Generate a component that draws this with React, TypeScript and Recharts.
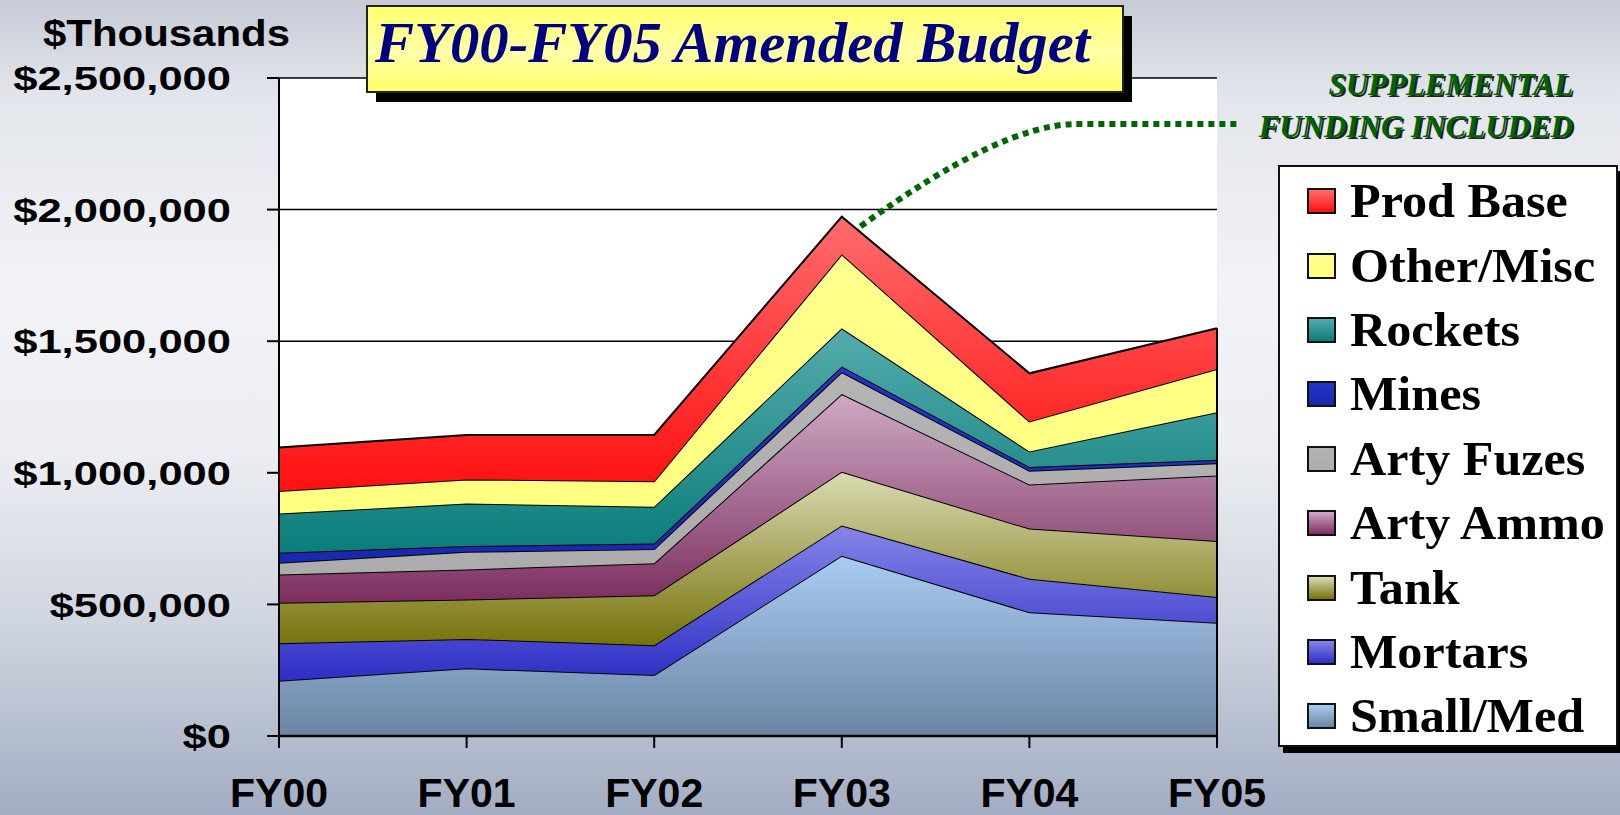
import React from 'react';
import { AreaChart, Area, XAxis, YAxis, CartesianGrid, Legend, ReferenceLine } from 'recharts';

// $Thousands, stacked from the bottom (Small/Med) to the top (Prod Base)
const years = ['FY00', 'FY01', 'FY02', 'FY03', 'FY04', 'FY05'];
const seriesNames = ['Small/Med', 'Mortars', 'Tank', 'Arty Ammo', 'Arty Fuzes', 'Mines', 'Rockets', 'Other/Misc', 'Prod Base'];
const smallMed = [210000, 257000, 232000, 685000, 470000, 430000];
const mortars = [142000, 112000, 113000, 115000, 127000, 98000];
const tank = [154000, 150000, 190000, 204000, 191000, 213000];
const artyAmmo = [108000, 114000, 121000, 295000, 168000, 249000];
const artyFuzes = [44000, 67000, 54000, 84000, 52000, 46000];
const mines = [38000, 22000, 21000, 21000, 14000, 14000];
const rockets = [149000, 161000, 140000, 145000, 59000, 180000];
const otherMisc = [86000, 92000, 97000, 281000, 114000, 164000];
const prodBase = [165000, 169000, 176000, 143000, 183000, 155000];
const seriesValues = [smallMed, mortars, tank, artyAmmo, artyFuzes, mines, rockets, otherMisc, prodBase];
const yTicks = [0, 500000, 1000000, 1500000, 2000000, 2500000];

// gradient colours per series: [top, bottom]
const colours: Record<string, [string, string]> = {
  'Small/Med': ['#a9ccf2', '#6c85a3'],
  'Mortars': ['#8585e8', '#2e2ec6'],
  'Tank': ['#dadcb4', '#76720a'],
  'Arty Ammo': ['#cfaac6', '#7c2e5e'],
  'Arty Fuzes': ['#b4b4b4', '#acacac'],
  'Mines': ['#2434c6', '#1a28b0'],
  'Rockets': ['#54acac', '#0b7d7a'],
  'Other/Misc': ['#ffff8c', '#ffff80'],
  'Prod Base': ['#ff6c6c', '#ff1010'],
};

const W = 1620;
const H = 815;
const PLOT_LEFT = 279;
const PLOT_RIGHT = 1217;
const PLOT_TOP = 78;
const PLOT_BOTTOM = 736;
const Y_MAX = 2500000;

const SANS = '"Liberation Sans", Arial, sans-serif';
const SERIF = '"Liberation Serif", "Times New Roman", serif';

const keyOf = (name: string) => name.replace(/[^A-Za-z]/g, '');
const fmt = (v: number) => '$' + v.toLocaleString('en-US');

const data = years.map((year, i) => {
  const row: any = { year };
  seriesNames.forEach((n, s) => { row[keyOf(n)] = seriesValues[s][i]; });
  return row;
});
const lastTotal = seriesValues.reduce((sum, arr) => sum + arr[arr.length - 1], 0);

// dotted "supplemental funding" call-out, in (category index, value) units
const callout = [
  { i: 3.1, v: 1936000 },
  { i: 3.85, v: 2325000 },
  { i: 4.25, v: 2325000 },
  { i: 5.11, v: 2325000 },
];
const px = (i: number) => PLOT_LEFT + (i * (PLOT_RIGHT - PLOT_LEFT)) / (years.length - 1);
const py = (v: number) => PLOT_BOTTOM - (v / Y_MAX) * (PLOT_BOTTOM - PLOT_TOP);

const YTick = (props: any) => {
  const { x, y, payload } = props;
  return (
    <text transform={`translate(${x - 34},${y}) scale(1.28,1)`} textAnchor="end" dy="0.36em"
      fontSize={34} fontWeight="bold" fontFamily={SANS} fill="#000">
      {fmt(payload.value)}
    </text>
  );
};

const XTick = (props: any) => {
  const { x, y, payload } = props;
  return (
    <text x={x} y={y} dy={57} textAnchor="middle" fontSize={41} fontWeight="bold" fontFamily={SANS} fill="#000">
      {payload.value}
    </text>
  );
};

const LegendBox = (props: any) => {
  const items = [...(props.payload || [])].sort(
    (a: any, b: any) => seriesNames.indexOf(b.value) - seriesNames.indexOf(a.value)
  );
  return (
    <div style={{
      width: '100%', height: '100%', boxSizing: 'border-box', background: '#fff',
      border: '2px solid #111', boxShadow: '5px 6px 0 #000', paddingTop: 2,
    }}>
      {items.map((it: any) => {
        const c = colours[it.value];
        return (
          <div key={it.value} style={{ height: 64.4, display: 'flex', alignItems: 'center' }}>
            <div style={{
              marginLeft: 27, width: 25, height: 22, border: '2px solid #111',
              background: `linear-gradient(${c[0]}, ${c[1]})`,
            }} />
            <span style={{
              marginLeft: 14, fontFamily: SERIF, fontWeight: 'bold', fontSize: 48, lineHeight: '48px', color: '#000',
              display: 'inline-block', transform: 'scaleX(1.045)', transformOrigin: 'left center', whiteSpace: 'nowrap',
            }}>{it.value}</span>
          </div>
        );
      })}
    </div>
  );
};

export default function App() {
  const c0 = callout[0], c1 = callout[1], c2 = callout[2], c3 = callout[3];
  const calloutPath = `M${px(c0.i)},${py(c0.v)} Q${px(c1.i)},${py(c1.v)} ${px(c2.i)},${py(c2.v)} L${px(c3.i)},${py(c3.v)}`;
  return (
    <div style={{
      position: 'absolute', left: 0, top: 0, width: W, height: H, overflow: 'hidden',
      background: 'linear-gradient(180deg, #c6cbd6 0%, #e3e6ec 12%, #f2f3f6 35%, #eceef2 55%, #cdd3de 78%, #a2adc3 100%)',
    }}>
      <AreaChart width={W} height={H} data={data}
        margin={{ top: PLOT_TOP, right: W - PLOT_RIGHT, bottom: 0, left: 0 }}>
        <defs>
          {seriesNames.map((n) => (
            <linearGradient key={n} id={'g' + keyOf(n)} x1="0" y1="0" x2="0" y2="1">
              <stop offset="0%" stopColor={colours[n][0]} />
              <stop offset="100%" stopColor={colours[n][1]} />
            </linearGradient>
          ))}
        </defs>
        <CartesianGrid vertical={false} fill="#ffffff" fillOpacity={1} stroke="#000" strokeWidth={1.5} />
        <XAxis dataKey="year" height={H - PLOT_BOTTOM} tick={<XTick />} tickSize={12}
          axisLine={{ stroke: '#000', strokeWidth: 2.5 }} tickLine={{ stroke: '#000', strokeWidth: 2 }} />
        <YAxis width={PLOT_LEFT} domain={[0, Y_MAX]} ticks={yTicks} tick={<YTick />} tickSize={12}
          interval={0} axisLine={{ stroke: '#000', strokeWidth: 2 }} tickLine={{ stroke: '#000', strokeWidth: 2 }} />
        {seriesNames.map((n) => (
          <Area key={n} type="linear" dataKey={keyOf(n)} name={n} stackId="budget"
            stroke="#000" strokeWidth={2} fill={`url(#g${keyOf(n)})`} fillOpacity={1}
            dot={false} activeDot={false} isAnimationActive={false} />
        ))}
        <ReferenceLine segment={[{ x: 'FY05', y: 0 }, { x: 'FY05', y: lastTotal }]} stroke="#000" strokeWidth={2} />
        <Legend layout="vertical" align="center" verticalAlign="middle" content={<LegendBox />}
          wrapperStyle={{ left: 1278, top: 165, width: 340, height: 582 }} />
      </AreaChart>

      <svg width={W} height={H} style={{ position: 'absolute', left: 0, top: 0, pointerEvents: 'none' }}>
        <defs>
          <linearGradient id="titleFill" x1="0" y1="0" x2="0" y2="1">
            <stop offset="0%" stopColor="#ffff6e" />
            <stop offset="55%" stopColor="#ffffa8" />
            <stop offset="100%" stopColor="#ffff66" />
          </linearGradient>
        </defs>
        <text x={43} y={46} fontFamily={SANS} fontWeight="bold" fontSize={37} fill="#000"
          textLength={247} lengthAdjust="spacingAndGlyphs">$Thousands</text>

        <rect x={376} y={16} width={756} height={86} fill="#000" />
        <rect x={367} y={6} width={756} height={86} fill="url(#titleFill)" stroke="#222" strokeWidth={2} />
        <text x={375} y={62} fontFamily={SERIF} fontWeight="bold" fontStyle="italic" fontSize={58} fill="#000080"
          textLength={715} lengthAdjust="spacingAndGlyphs">FY00-FY05 Amended Budget</text>

        <path d={calloutPath} fill="none" stroke="#006600" strokeWidth={6} strokeDasharray="6 5" />

        {[['SUPPLEMENTAL', 95], ['FUNDING INCLUDED', 137]].map(([t, y]) => (
          <g key={t as string} fontFamily={SERIF} fontWeight="bold" fontStyle="italic" fontSize={31} textAnchor="end">
            <text x={1575} y={(y as number) + 2} fill="#222">{t}</text>
            <text x={1573} y={y as number} fill="#006400">{t}</text>
          </g>
        ))}
      </svg>
    </div>
  );
}
